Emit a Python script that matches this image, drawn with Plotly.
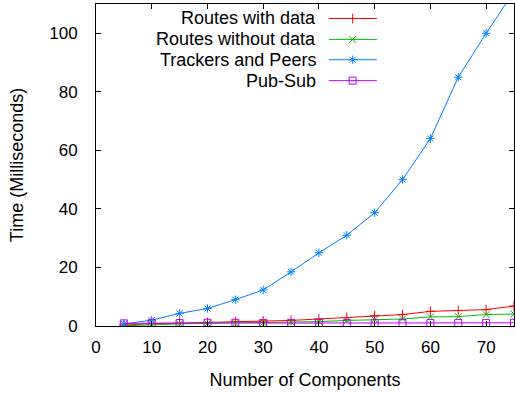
import plotly.graph_objects as go

components = [5, 10, 15, 20, 25, 30, 35, 40, 45, 50, 55, 60, 65, 70, 75]
routes_with_data = [0.3, 0.8, 1.0, 1.2, 1.5, 1.7, 1.9, 2.4, 2.9, 3.5, 3.9, 5.0, 5.3, 5.6, 6.8]
routes_without_data = [0.1, 0.5, 0.7, 0.9, 1.0, 1.1, 1.3, 1.5, 1.9, 2.2, 2.4, 3.1, 3.2, 3.9, 4.1]
trackers_and_peers = [0.7, 2.0, 4.3, 6.0, 9.0, 12.3, 18.5, 25.0, 31.0, 38.7, 50.0, 64.0, 85.0, 100.0, 114.3]
pub_sub = [0.9, 1.0, 1.0, 1.1, 1.1, 1.0, 1.0, 1.0, 1.0, 1.0, 1.0, 1.0, 1.0, 1.0, 1.1]

series_names = ["Routes with data", "Routes without data", "Trackers and Peers", "Pub-Sub"]
series_values = [routes_with_data, routes_without_data, trackers_and_peers, pub_sub]
colors = ["#ff0000", "#00c000", "#0080ff", "#c000ff"]
symbols = ["cross-thin-open", "x-thin-open", "asterisk-open", "square-open"]

x_ticks = [0, 10, 20, 30, 40, 50, 60, 70]
y_ticks = [0, 20, 40, 60, 80, 100]

FONT = "Liberation Sans, Arial, sans-serif"

fig = go.Figure()
for name, vals, c, s in zip(series_names, series_values, colors, symbols):
    fig.add_trace(go.Scatter(
        x=components, y=vals, mode="lines+markers", name=name,
        line=dict(color=c, width=1),
        marker=dict(symbol=s, size=7, color=c, line=dict(color=c, width=1)),
        showlegend=False,
    ))

# manual gnuplot-style legend (text right-aligned, sample on right)
leg_y = [0.955, 0.89, 0.827, 0.762]
for name, c, s, yy in zip(series_names, colors, symbols, leg_y):
    fig.add_annotation(x=0.532, y=yy, xref="paper", yref="paper", text=name,
                       showarrow=False, xanchor="right", yanchor="middle",
                       font=dict(family=FONT, size=18, color="black"))
    fig.add_shape(type="line", xref="paper", yref="paper", x0=0.557, x1=0.672,
                  y0=yy, y1=yy, line=dict(color=c, width=1))
    fig.add_trace(go.Scatter(x=[0.614], y=[yy], xaxis="x2", yaxis="y2", mode="markers",
                             marker=dict(symbol=s, size=7, color=c, line=dict(color=c, width=1)),
                             showlegend=False, hoverinfo="skip"))

fig.update_layout(
    width=515, height=394,
    margin=dict(l=96, r=1, t=4, b=68, autoexpand=False),
    paper_bgcolor="white", plot_bgcolor="white",
    font=dict(family=FONT, size=15, color="black"),
    xaxis=dict(range=[0, 75], tickvals=x_ticks, ticks="inside", ticklen=5, tickcolor="black",
               showline=True, linecolor="black", linewidth=1, mirror="allticks",
               showgrid=False, zeroline=False, automargin=False,
               title=dict(text="Number of Components", standoff=16, font=dict(size=18)),
               tickfont=dict(size=17), ticklabelstandoff=6),
    yaxis=dict(range=[0, 110], tickvals=y_ticks, ticks="inside", ticklen=5, tickcolor="black",
               showline=True, linecolor="black", linewidth=1, mirror="allticks",
               showgrid=False, zeroline=False, automargin=False,
               title=dict(text="Time (Milliseconds)", standoff=20, font=dict(size=18)),
               tickfont=dict(size=17), ticklabelstandoff=14),
    xaxis2=dict(range=[0, 1], overlaying="x", visible=False, anchor="y2"),
    yaxis2=dict(range=[0, 1], overlaying="y", visible=False, anchor="x2"),
)
fig.write_html("out.html", config={"displayModeBar": False},
               post_script="document.body.style.margin='0px';")
